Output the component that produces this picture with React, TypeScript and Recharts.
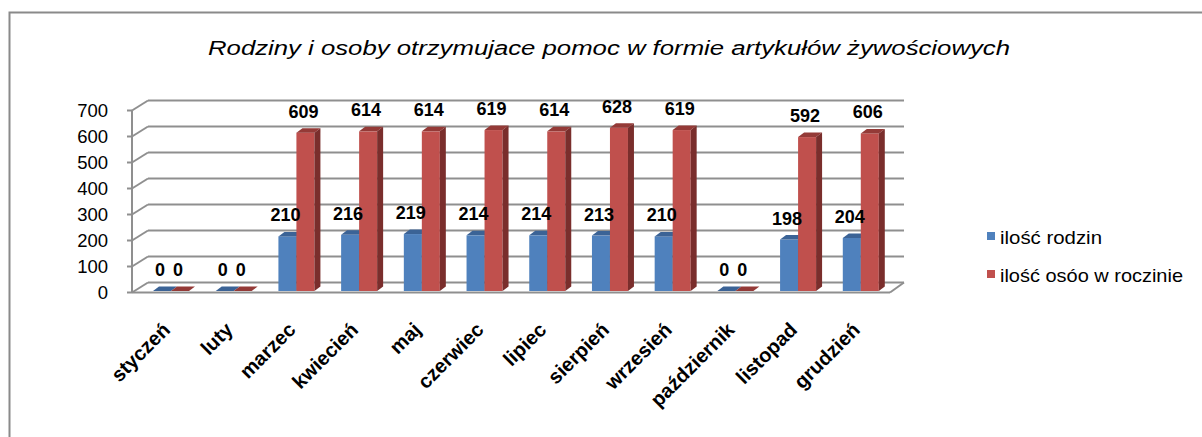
import React from 'react';
import { BarChart, Bar, XAxis, YAxis, CartesianGrid, LabelList } from 'recharts';

const TITLE = 'Rodziny i osoby otrzymujace pomoc w formie artykułów żywościowych';
const months = ['styczeń', 'luty', 'marzec', 'kwiecień', 'maj', 'czerwiec', 'lipiec', 'sierpień', 'wrzesień', 'październik', 'listopad', 'grudzień'];
const rodziny = [0, 0, 210, 216, 219, 214, 214, 213, 210, 0, 198, 204];
const osoby = [0, 0, 609, 614, 614, 619, 614, 628, 619, 0, 592, 606];
const seriesNames = ['ilość rodzin', 'ilość osóo w roczinie'];
const yTicks = [0, 100, 200, 300, 400, 500, 600, 700];

const data = months.map((m, i) => ({ month: m, rodziny: rodziny[i], osoby: osoby[i] }));

const FONT = '"Liberation Sans", Arial, sans-serif';
const BLUE = { front: '#4F81BD', top: '#3B6396', side: '#2E4D75' };
const RED = { front: '#C0504D', top: '#943A37', side: '#7A2E2C' };
const DX = 6;
const DY = 4.5;

const make3DBar = (c: { front: string; top: string; side: string }) => (props: any) => {
  const { x, y, width, height } = props;
  if (x == null || y == null) return null;
  const h = Math.max(0, height);
  return (
    <g>
      <rect x={x} y={y} width={width} height={h} fill={c.front} />
      <polygon points={`${x},${y} ${x + DX},${y - DY} ${x + width + DX},${y - DY} ${x + width},${y}`} fill={c.top} />
      <polygon points={`${x + width},${y} ${x + width + DX},${y - DY} ${x + width + DX},${y + h - DY} ${x + width},${y + h}`} fill={c.side} />
    </g>
  );
};

const gridLine = (props: any) => {
  const { x1, x2, y1, index, y, height, key } = props;
  const yf = y1 + 1.5;
  const yb = yf - 10;
  const fx = x1 - 8;
  const bx = x1 + 8;
  const isFloor = Math.abs(y1 - (y + height)) < 0.5;
  const isTop = Math.abs(y1 - y) < 0.5;
  const stroke = '#8f8f8f';
  return (
    <g key={key ?? `g-${index}`}>
      <line x1={fx - 5} y1={yf} x2={fx} y2={yf} stroke={stroke} strokeWidth={2} />
      <line x1={fx} y1={yf} x2={bx} y2={yb} stroke={stroke} strokeWidth={2} />
      <line x1={bx} y1={yb} x2={x2 + 11.5} y2={yb} stroke={stroke} strokeWidth={2} />
      {isFloor && (
        <>
          <line x1={fx} y1={yf} x2={x2 - 2.5} y2={yf} stroke={stroke} strokeWidth={2} />
          <line x1={x2 - 2.5} y1={yf} x2={x2 + 11.5} y2={yb} stroke={stroke} strokeWidth={2} />
        </>
      )}
      {isTop && (
        <line x1={fx} y1={yf} x2={fx} y2={yf + height} stroke={stroke} strokeWidth={2} />
      )}
    </g>
  );
};

const YTick = (props: any) => {
  const { x, y, payload } = props;
  return (
    <text x={x - 32} y={y + 1.5} dy="0.36em" textAnchor="end" fontFamily={FONT} fontSize={18.5} fill="#000">
      {payload.value}
    </text>
  );
};

const XTick = (props: any) => {
  const { x, y, payload } = props;
  const ax = x;
  const ay = y + 40;
  return (
    <text x={ax} y={ay} textAnchor="end" transform={`rotate(-45, ${ax}, ${ay})`} fontFamily={FONT} fontSize={20} fontWeight="bold" fill="#000">
      {payload.value}
    </text>
  );
};

const BarLabel = (props: any) => {
  const { x, y, width, value } = props;
  return (
    <text x={x + width / 2 - 2} y={y - 15} textAnchor="middle" fontFamily={FONT} fontSize={18} fontWeight="bold" fill="#000">
      {value}
    </text>
  );
};

export default function App() {
  return (
    <div style={{ position: 'absolute', left: 0, top: 0, width: 1202, height: 437, background: '#fff', overflow: 'hidden' }}>
      <svg width={1202} height={437} style={{ position: 'absolute', left: 0, top: 0 }}>
        <path d="M9.5,437 V12.5 H1202" fill="none" stroke="#8a8a8a" strokeWidth={2} />
        <text x={609} y={55} textAnchor="middle" fontFamily={FONT} fontSize={19.5} fontStyle="italic" fill="#000" textLength={802} lengthAdjust="spacingAndGlyphs">
          {TITLE}
        </text>
        <rect x={987} y={232} width={8} height={8} fill={BLUE.front} />
        <text x={1000} y={244} fontFamily={FONT} fontSize={18.5} fill="#000" textLength={102} lengthAdjust="spacingAndGlyphs">
          {seriesNames[0]}
        </text>
        <rect x={987} y={270} width={8} height={8} fill={RED.front} />
        <text x={1000} y={282} fontFamily={FONT} fontSize={18.5} fill="#000" textLength={183} lengthAdjust="spacingAndGlyphs">
          {seriesNames[1]}
        </text>
      </svg>
      <div style={{ position: 'absolute', left: 0, top: 0 }}>
        <BarChart
          width={1202}
          height={437}
          data={data}
          margin={{ top: 109, right: 309.5, bottom: 86, left: 40 }}
          barGap={0}
          barSize={18}
        >
          <CartesianGrid vertical={false} horizontal={gridLine} />
          <XAxis dataKey="month" height={60} axisLine={false} tickLine={false} tickSize={0} tickMargin={0} interval={0} tick={<XTick />} />
          <YAxis width={100} domain={[0, 700]} ticks={yTicks} axisLine={false} tickLine={false} tickSize={0} tickMargin={0} tick={<YTick />} />
          <Bar dataKey="rodziny" name={seriesNames[0]} fill={BLUE.front} shape={make3DBar(BLUE)} isAnimationActive={false}>
            <LabelList dataKey="rodziny" content={<BarLabel />} />
          </Bar>
          <Bar dataKey="osoby" name={seriesNames[1]} fill={RED.front} shape={make3DBar(RED)} isAnimationActive={false}>
            <LabelList dataKey="osoby" content={<BarLabel />} />
          </Bar>
        </BarChart>
      </div>
    </div>
  );
}
